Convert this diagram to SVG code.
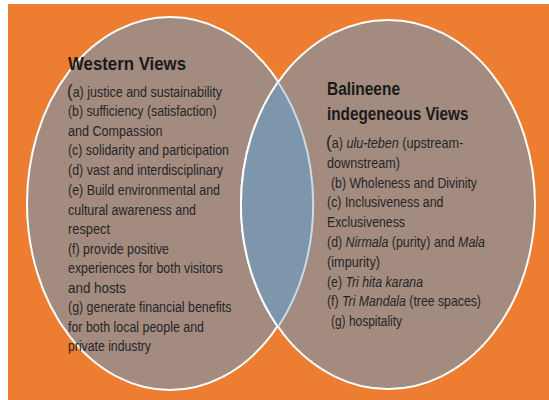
<svg xmlns="http://www.w3.org/2000/svg" width="549" height="400" viewBox="0 0 549 400">
  <style>
    .t { font-family: "Liberation Sans", Arial, sans-serif; font-size: 14px; fill: #262626; }
    .h { font-family: "Liberation Sans", Arial, sans-serif; font-size: 18px; font-weight: bold; fill: #1a1a1a; }
    .p { font-size: 19px; }
    .i { font-style: italic; }
    .circle { fill: #A38B80; stroke: #ffffff; stroke-width: 2; }
  </style>
  <defs>
    <clipPath id="clipLeft">
      <ellipse cx="170" cy="203.5" rx="143" ry="186.5"/>
    </clipPath>
  </defs>
  <rect x="0" y="0" width="549" height="400" fill="#ffffff"/>
  <rect x="8" y="4" width="541" height="396" fill="#ED7D31"/>

  <g id="western">
    <ellipse class="circle" cx="170" cy="203.5" rx="143" ry="186.5"/>
  </g>
  <g id="balinese">
    <ellipse class="circle" cx="388" cy="204.5" rx="147" ry="184.5"/>
  </g>
  <g id="overlap">
    <ellipse cx="388" cy="204.5" rx="147" ry="184.5" fill="#7E96AC" clip-path="url(#clipLeft)"/>
    <path d="M278,82 A147,184.5 0 0,0 278,327" fill="none" stroke="#ffffff" stroke-width="2"/>
    <path d="M278,82 A143,186.5 0 0,1 278,327" fill="none" stroke="#C9DBEA" stroke-width="2"/>
  </g>

  <g id="western-text">
    <text class="h" x="68" y="70" textLength="118" lengthAdjust="spacingAndGlyphs">Western Views</text>
    <text class="t" transform="translate(67,96.5) scale(0.893,1)" x="0" y="0"><tspan class="p">(</tspan>a) justice and sustainability</text>
    <text class="t" x="68" y="116.1" textLength="148.5" lengthAdjust="spacingAndGlyphs">(b) sufficiency (satisfaction)</text>
    <text class="t" x="68" y="135.7" textLength="94.5" lengthAdjust="spacingAndGlyphs">and Compassion</text>
    <text class="t" x="68" y="155.3" textLength="161" lengthAdjust="spacingAndGlyphs">(c) solidarity and participation</text>
    <text class="t" x="68" y="174.9" textLength="155" lengthAdjust="spacingAndGlyphs">(d) vast and interdisciplinary</text>
    <text class="t" x="68" y="194.5" textLength="152" lengthAdjust="spacingAndGlyphs">(e) Build environmental and</text>
    <text class="t" x="68" y="214.5" textLength="128" lengthAdjust="spacingAndGlyphs">cultural awareness and</text>
    <text class="t" x="68" y="234" textLength="42" lengthAdjust="spacingAndGlyphs">respect</text>
    <text class="t" x="68" y="253.5" textLength="101" lengthAdjust="spacingAndGlyphs">(f) provide positive</text>
    <text class="t" x="68" y="273" textLength="154.7" lengthAdjust="spacingAndGlyphs">experiences for both visitors</text>
    <text class="t" x="68" y="292.6" textLength="58" lengthAdjust="spacingAndGlyphs">and hosts</text>
    <text class="t" x="68" y="312.2" textLength="163.5" lengthAdjust="spacingAndGlyphs">(g) generate financial benefits</text>
    <text class="t" x="68" y="331.8" textLength="136" lengthAdjust="spacingAndGlyphs">for both local people and</text>
    <text class="t" x="68" y="351.4" textLength="83" lengthAdjust="spacingAndGlyphs">private industry</text>
  </g>

  <g id="balinese-text">
    <text class="h" x="327" y="95" textLength="73" lengthAdjust="spacingAndGlyphs">Balineene</text>
    <text class="h" x="327" y="119.5" textLength="141.5" lengthAdjust="spacingAndGlyphs">indegeneous Views</text>
    <text class="t" transform="translate(326,148) scale(0.9,1)" x="0" y="0"><tspan class="p">(</tspan>a) <tspan class="i">ulu-teben</tspan> (upstream-</text>
    <text class="t" x="327" y="167.8" textLength="73" lengthAdjust="spacingAndGlyphs">downstream)</text>
    <text class="t" x="331" y="187.6" textLength="146" lengthAdjust="spacingAndGlyphs">(b) Wholeness and Divinity</text>
    <text class="t" x="327" y="207.4" textLength="116.5" lengthAdjust="spacingAndGlyphs">(c) Inclusiveness and</text>
    <text class="t" x="327" y="227.2" textLength="78" lengthAdjust="spacingAndGlyphs">Exclusiveness</text>
    <text class="t" transform="translate(327,247) scale(0.888,1)" x="0" y="0">(d) <tspan class="i">Nirmala</tspan> (purity) and <tspan class="i">Mala</tspan></text>
    <text class="t" x="327" y="266.8" textLength="53" lengthAdjust="spacingAndGlyphs">(impurity)</text>
    <text class="t" transform="translate(327,286.6) scale(0.878,1)" x="0" y="0">(e) <tspan class="i">Tri hita karana</tspan></text>
    <text class="t" transform="translate(327,306.4) scale(0.878,1)" x="0" y="0">(f) <tspan class="i">Tri Mandala</tspan> (tree spaces)</text>
    <text class="t" x="331" y="326.2" textLength="71" lengthAdjust="spacingAndGlyphs">(g) hospitality</text>
  </g>
</svg>
